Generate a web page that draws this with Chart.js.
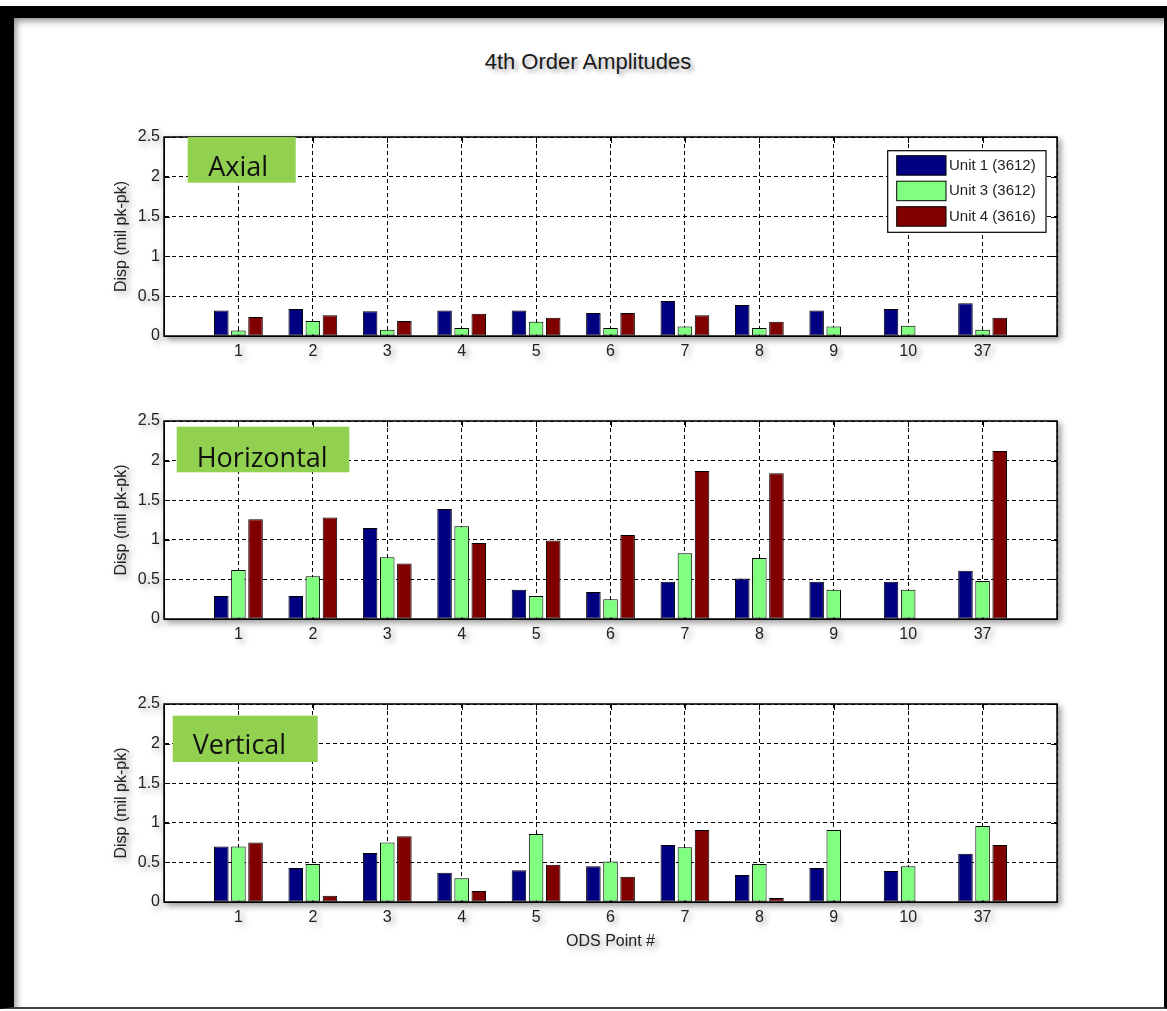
<!DOCTYPE html>
<html>
<head>
<meta charset="utf-8">
<script src="https://cdn.jsdelivr.net/npm/chart.js@4.4.1/dist/chart.umd.min.js"></script>
<style>
  html, body { margin: 0; padding: 0; background: #fff; }
  #page { position: relative; width: 1167px; height: 1011px; overflow: hidden; background: #fff; }
  #frame {
    position: absolute; left: 0; top: 6px; width: 1150px; height: 989px;
    border-left: 14px solid #000; border-top: 12px solid #000;
    border-right: 3px solid #000; border-bottom: 2px solid #444;
    box-shadow: inset 4px 5px 7px -2px rgba(0,0,0,0.45);
  }
  #title {
    position: absolute; left: 388px; top: 49px; width: 400px; text-align: center;
    font: 22px 'Liberation Sans', Arial, sans-serif; line-height: 26px; color: #1a1a1a;
    text-shadow: 3px 3px 4px rgba(0,0,0,0.35);
  }
  canvas { position: absolute; left: 90px; filter: drop-shadow(3px 3px 3px rgba(0,0,0,0.4)); }
</style>
</head>
<body>
<div id="page">
  <div id="frame"></div>
  <div id="title">4th Order Amplitudes</div>
  <canvas id="axial" width="980" height="244" style="top:122px"></canvas>
  <canvas id="horizontal" width="980" height="243" style="top:406px"></canvas>
  <canvas id="vertical" width="980" height="268" style="top:689px"></canvas>
</div>
<script>
// ODS points on the x axis
const odsPoints = ['1', '2', '3', '4', '5', '6', '7', '8', '9', '10', '37'];
const seriesNames = ['Unit 1 (3612)', 'Unit 3 (3612)', 'Unit 4 (3616)'];
const seriesColors = ['#000080', '#80ff80', '#800000'];
const yTicks = [0, 0.5, 1, 1.5, 2, 2.5];

// Axial
const axialUnit1 = [0.32, 0.34, 0.31, 0.32, 0.32, 0.29, 0.44, 0.39, 0.32, 0.34, 0.41];
const axialUnit3 = [0.07, 0.19, 0.08, 0.10, 0.18, 0.10, 0.12, 0.10, 0.12, 0.13, 0.08];
const axialUnit4 = [0.24, 0.26, 0.19, 0.28, 0.23, 0.29, 0.26, 0.18, null, null, 0.23];

// Horizontal
const horizUnit1 = [0.29, 0.29, 1.15, 1.39, 0.37, 0.34, 0.47, 0.51, 0.47, 0.47, 0.61];
const horizUnit3 = [0.62, 0.54, 0.78, 1.17, 0.29, 0.25, 0.83, 0.77, 0.37, 0.37, 0.48];
const horizUnit4 = [1.26, 1.28, 0.70, 0.96, 0.99, 1.06, 1.87, 1.84, null, null, 2.12];

// Vertical
const vertUnit1 = [0.70, 0.43, 0.62, 0.37, 0.40, 0.45, 0.72, 0.34, 0.43, 0.39, 0.61];
const vertUnit3 = [0.70, 0.48, 0.75, 0.30, 0.86, 0.51, 0.69, 0.48, 0.91, 0.45, 0.96];
const vertUnit4 = [0.75, 0.08, 0.83, 0.14, 0.47, 0.32, 0.91, 0.05, null, null, 0.72];

const fontFam = "'Liberation Sans', Arial, sans-serif";
const textCol = '#222';

// white axes, matlab style tick marks, box, label tag and legend
const axesBox = {
  id: 'axesBox',
  beforeDraw(chart) {
    const { ctx, chartArea: a } = chart;
    ctx.save();
    ctx.fillStyle = '#fff';
    ctx.fillRect(a.left, a.top, a.width, a.height);
    ctx.restore();
  },
  beforeDatasetsDraw(chart) {
    const { ctx, chartArea: a, scales } = chart;
    ctx.save();
    ctx.strokeStyle = '#000';
    ctx.lineWidth = 1;
    ctx.beginPath();
    scales.x.ticks.forEach((t, i) => {
      const x = Math.round(scales.x.getPixelForTick(i)) + 0.5;
      ctx.moveTo(x, a.bottom); ctx.lineTo(x, a.bottom - 6);
      ctx.moveTo(x, a.top); ctx.lineTo(x, a.top + 6);
    });
    scales.y.ticks.forEach((t, i) => {
      const y = Math.round(scales.y.getPixelForTick(i)) + 0.5;
      ctx.moveTo(a.left, y); ctx.lineTo(a.left + 6, y);
      ctx.moveTo(a.right, y); ctx.lineTo(a.right - 6, y);
    });
    ctx.stroke();
    ctx.restore();
  },
  afterDraw(chart, args, opts) {
    const { ctx, chartArea: a } = chart;
    ctx.save();
    ctx.strokeStyle = '#000';
    ctx.lineWidth = 1.5;
    ctx.strokeRect(a.left, a.top, a.width, a.height);

    // green tag
    const t = opts.tag;
    if (t) {
      ctx.fillStyle = '#92d050';
      ctx.fillRect(a.left + t.x, a.top + t.y, t.w, t.h);
      ctx.fillStyle = '#111';
      ctx.font = "27px 'Open Sans', sans-serif";
      ctx.textBaseline = 'alphabetic';
      ctx.textAlign = 'left';
      ctx.fillText(t.text, a.left + t.tx, a.top + t.ty);
    }

    // legend
    if (opts.legend) {
      const lx = a.left + 723.7, ly = a.top + 13.7, lw = 158.3, lh = 81.6;
      ctx.fillStyle = '#fff';
      ctx.fillRect(lx, ly, lw, lh);
      ctx.lineWidth = 1.2;
      ctx.strokeStyle = '#000';
      ctx.strokeRect(lx, ly, lw, lh);
      ctx.font = '15px ' + fontFam;
      ctx.textBaseline = 'middle';
      chart.data.datasets.forEach((ds, i) => {
        const top = ly + 5 + i * 25.5;
        ctx.fillStyle = ds.backgroundColor;
        ctx.fillRect(lx + 9, top, 49.3, 19.5);
        ctx.lineWidth = 1;
        ctx.strokeStyle = '#000';
        ctx.strokeRect(lx + 9, top, 49.3, 19.5);
        ctx.fillStyle = textCol;
        ctx.fillText(ds.label, lx + 61.3, top + 10);
      });
    }
    ctx.restore();
  }
};

function makePanel(id, u1, u3, u4, tag, legend, xTitle) {
  return new Chart(document.getElementById(id), {
    type: 'bar',
    data: {
      labels: ['', ...odsPoints, ''],
      datasets: [u1, u3, u4].map((d, i) => ({
        label: seriesNames[i],
        data: [null, ...d, null],
        backgroundColor: seriesColors[i],
        borderColor: '#000',
        borderWidth: 1,
        borderSkipped: false,
        categoryPercentage: 0.69,
        barPercentage: 0.85
      }))
    },
    options: {
      responsive: false,
      devicePixelRatio: 1,
      animation: false,
      layout: { padding: { left: 0, right: 13, top: 15, bottom: 0 } },
      plugins: {
        legend: { display: false },
        tooltip: { enabled: false },
        axesBox: { tag: tag, legend: legend }
      },
      scales: {
        x: {
          offset: false,
          grid: { offset: false, color: '#000', lineWidth: 1, drawTicks: false },
          border: { display: true, color: '#000', width: 1, dash: [4, 3] },
          ticks: { color: textCol, font: { family: fontFam, size: 16 }, padding: 6, maxRotation: 0, autoSkip: false },
          title: {
            display: !!xTitle, text: xTitle || '', color: textCol,
            font: { family: fontFam, size: 16 }, padding: { top: 0, bottom: 6 }
          },
          afterFit: s => { s.height = xTitle ? 55 : 30; }
        },
        y: {
          min: 0,
          max: 2.5,
          afterBuildTicks: s => { s.ticks = yTicks.map(v => ({ value: v })); },
          grid: { color: '#000', lineWidth: 1, drawTicks: false },
          border: { display: true, color: '#000', width: 1, dash: [4, 3] },
          ticks: {
            color: textCol, font: { family: fontFam, size: 16 }, padding: 4,
            callback: v => String(v)
          },
          title: {
            display: true, text: 'Disp (mil pk-pk)', color: textCol,
            font: { family: fontFam, size: 16 }, padding: { top: 22, bottom: 0 }
          },
          afterFit: s => { s.width = 74; }
        }
      }
    },
    plugins: [axesBox]
  });
}

makePanel('axial', axialUnit1, axialUnit3, axialUnit4,
  { text: 'Axial', x: 23.7, y: 0, w: 108, h: 45.7, tx: 44.3, ty: 39 }, true, null);
makePanel('horizontal', horizUnit1, horizUnit3, horizUnit4,
  { text: 'Horizontal', x: 12.7, y: 5.7, w: 172.6, h: 45.6, tx: 32.7, ty: 45.7 }, false, null);
makePanel('vertical', vertUnit1, vertUnit3, vertUnit4,
  { text: 'Vertical', x: 8.7, y: 11.7, w: 145, h: 46.3, tx: 28.7, ty: 50 }, false, 'ODS Point #');
</script>
</body>
</html>
